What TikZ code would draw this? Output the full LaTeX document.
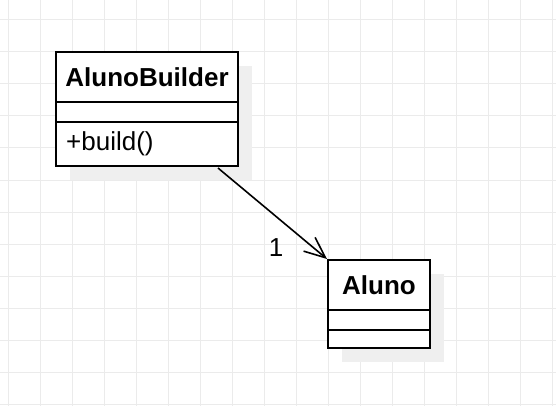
\documentclass[tikz,border=0pt]{standalone}
\usepackage{fontspec}
\setmainfont{Liberation Sans}
\usetikzlibrary{arrows.meta}
\definecolor{gridc}{HTML}{EBEBEB}
\definecolor{shadowc}{HTML}{EFEFEF}
\tikzset{
  classbox/.style={draw=black, line width=2pt, fill=white, inner sep=0pt},
  shadowbox/.style={fill=shadowc, draw=none},
  divider/.style={draw=black, line width=2pt},
  titletext/.style={font=\fontsize{26}{30}\selectfont\bfseries, inner sep=0pt},
  membertext/.style={font=\fontsize{26}{30}\selectfont, inner sep=0pt, anchor=west},
  assoc/.style={draw=black, line width=1.6pt, -{Straight Barb[length=21pt,width=18pt,line width=1.6pt]}},
}
\begin{document}
\begin{tikzpicture}[x=1pt,y=-1pt]
\useasboundingbox (0,0) rectangle (556,406);
\fill[white] (0,0) rectangle (556,406);
\begin{scope}
\clip (0,0) rectangle (556,406);
\foreach \i in {0,...,17} {\draw[gridc, line width=1pt] (8+32*\i,0) -- (8+32*\i,406);}
\foreach \j in {0,...,12} {\draw[gridc, line width=1pt] (0,20+32*\j) -- (556,20+32*\j);}
\end{scope}
% shadows
\fill[shadowc] (70,66) rectangle (252,180);
\fill[shadowc] (342,274) rectangle (444,362);
% AlunoBuilder
\node[classbox, minimum width=182pt, minimum height=114pt] (ab) at (147,109) {};
\draw[divider] (ab.west |- 0,102) -- (ab.east |- 0,102);
\draw[divider] (ab.west |- 0,122) -- (ab.east |- 0,122);
\node[titletext] (abtitle) at (147,77) {AlunoBuilder};
\node[membertext] (abop) at (66,144) {+build()};
% Aluno
\node[classbox, minimum width=102pt, minimum height=88pt] (al) at (379,304) {};
\draw[divider] (al.west |- 0,310) -- (al.east |- 0,310);
\draw[divider] (al.west |- 0,330) -- (al.east |- 0,330);
\node[titletext] (altitle) at (379,285) {Aluno};
% association
\draw[assoc] ([xshift=71pt,yshift=-1pt]ab.south) -- (al.north west);
\node[font=\fontsize{26}{30}\selectfont, inner sep=0pt] (mult) at (276,248) {1};
\end{tikzpicture}
\end{document}
